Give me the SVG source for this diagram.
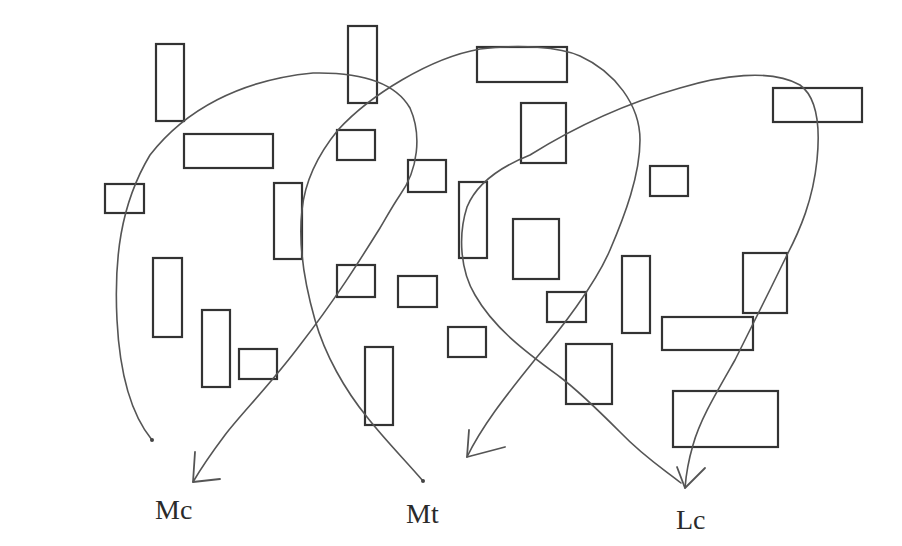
<svg xmlns="http://www.w3.org/2000/svg" width="902" height="546" viewBox="0 0 902 546">
<style>
.box{fill:none;stroke:#333;stroke-width:2.2}
.curve{fill:none;stroke:#555;stroke-width:1.6;stroke-linecap:round;stroke-linejoin:round}
.head{fill:none;stroke:#555;stroke-width:1.8;stroke-linecap:round;stroke-linejoin:round}
.dot{fill:#444}
.lbl{font-family:"Liberation Serif","Times New Roman",serif;font-size:28px;fill:#2a2a2a}
</style>
<rect width="902" height="546" fill="#fff"/>
<g id="nodes">
<g id="r1"><rect class="box" x="156" y="44" width="28" height="77"/></g>
<g id="r2"><rect class="box" x="348" y="26" width="29" height="77"/></g>
<g id="r3"><rect class="box" x="184" y="134" width="89" height="34"/></g>
<g id="r4"><rect class="box" x="337" y="130" width="38" height="30"/></g>
<g id="r5"><rect class="box" x="408" y="160" width="38" height="32"/></g>
<g id="r6"><rect class="box" x="105" y="184" width="39" height="29"/></g>
<g id="r7"><rect class="box" x="274" y="183" width="28" height="76"/></g>
<g id="r8"><rect class="box" x="153" y="258" width="29" height="79"/></g>
<g id="r9"><rect class="box" x="202" y="310" width="28" height="77"/></g>
<g id="r10"><rect class="box" x="239" y="349" width="38" height="30"/></g>
<g id="r11"><rect class="box" x="337" y="265" width="38" height="32"/></g>
<g id="r12"><rect class="box" x="398" y="276" width="39" height="31"/></g>
<g id="r13"><rect class="box" x="365" y="347" width="28" height="78"/></g>
<g id="r14"><rect class="box" x="448" y="327" width="38" height="30"/></g>
<g id="r15"><rect class="box" x="477" y="47" width="90" height="35"/></g>
<g id="r16"><rect class="box" x="521" y="103" width="45" height="60"/></g>
<g id="r17"><rect class="box" x="773" y="88" width="89" height="34"/></g>
<g id="r18"><rect class="box" x="650" y="166" width="38" height="30"/></g>
<g id="r19"><rect class="box" x="459" y="182" width="28" height="76"/></g>
<g id="r20"><rect class="box" x="513" y="219" width="46" height="60"/></g>
<g id="r21"><rect class="box" x="622" y="256" width="28" height="77"/></g>
<g id="r22"><rect class="box" x="743" y="253" width="44" height="60"/></g>
<g id="r23"><rect class="box" x="662" y="317" width="91" height="33"/></g>
<g id="r24"><rect class="box" x="547" y="292" width="39" height="30"/></g>
<g id="r25"><rect class="box" x="566" y="344" width="46" height="60"/></g>
<g id="r26"><rect class="box" x="673" y="391" width="105" height="56"/></g>
</g>
<g id="connectors">
<path class="curve" d="M152,440 C134,418 120,380 117,320 C114,260 120,205 150,155 C185,110 240,80 313,73 C360,72 395,82 410,108 C422,135 418,170 400,195 C390,210 385,220 380,228 C360,260 335,300 300,345 C270,385 240,415 225,435 C210,455 200,470 193,482"/>
<path class="head" d="M195,452 L193,482 L220,479"/>
<circle class="dot" cx="152" cy="440" r="2"/>
<path class="curve" d="M423,481 C405,460 385,440 367,417 C345,390 325,355 315,320 C305,285 298,245 302,210 C305,180 320,152 338,130 C370,95 430,58 480,49 C520,44 560,47 580,56 C615,72 640,105 640,140 C640,175 625,215 610,250 C595,285 560,330 537,357 C515,385 485,420 467,457"/>
<path class="head" d="M469,430 L467,457 L505,447"/>
<circle class="dot" cx="423" cy="481" r="2"/>
<path class="curve" d="M681,483 C665,470 645,458 620,432 C600,412 580,392 560,377 C530,355 495,330 475,295 C460,270 458,235 467,207 C478,180 505,165 530,155 C570,130 620,105 680,88 C720,76 770,68 800,85 C818,98 820,130 817,160 C813,200 800,230 787,255 C770,290 755,320 735,360 C715,395 700,420 693,445 C688,462 686,475 685,488"/>
<path class="head" d="M677,467 L685,488 L705,468"/>
</g>
<g id="labels">
<text class="lbl" x="155" y="519">Mc</text>
<text class="lbl" x="406" y="523">Mt</text>
<text class="lbl" x="676" y="529">Lc</text>
</g>
</svg>
